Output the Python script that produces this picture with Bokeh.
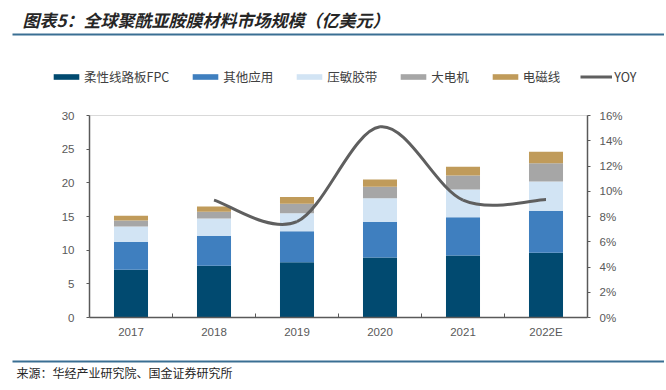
from bokeh.plotting import figure
from bokeh.layouts import column
from bokeh.models import (Range1d, LinearAxis, FixedTicker, Legend, LegendItem, Label,
                          BoxAnnotation, PrintfTickFormatter, ColumnDataSource)
from bokeh.embed import file_html
from bokeh.resources import INLINE

# ---------------- data ----------------
years = ["2017", "2018", "2019", "2020", "2021", "2022E"]
series_names = ["柔性线路板FPC", "其他应用", "压敏胶带", "大电机", "电磁线"]
fpc = [7.1, 7.7, 8.2, 8.9, 9.2, 9.6]
other = [4.1, 4.4, 4.6, 5.3, 5.7, 6.2]
tape = [2.3, 2.6, 2.7, 3.5, 4.1, 4.4]
motor = [0.9, 1.0, 1.4, 1.7, 2.1, 2.7]
wire = [0.7, 0.8, 1.0, 1.1, 1.3, 1.7]
yoy_years = ["2018", "2019", "2020", "2021", "2022E"]
yoy = [9.3, 7.6, 15.1, 9.3, 9.35]  # %
left_ticks = [0, 5, 10, 15, 20, 25, 30]
right_ticks = [0, 2, 4, 6, 8, 10, 12, 14, 16]
title_text = "图表5：全球聚酰亚胺膜材料市场规模（亿美元）"
source_text = "来源：华经产业研究院、国金证券研究所"

colors = ["#014A70", "#3F7FBF", "#D2E4F4", "#A6A6A6", "#C09B5A"]
line_color = "#5F5F5F"
rule_color = "#3A6F93"
axis_color = "#595959"
text_gray = "#595959"
cjk = "Noto Sans CJK SC"
latin = "Liberation Sans"

W = 664
HH, MH, FH = 95, 250, 43               # header / main / footer heights
FL, FR, FT, FB = 89, 587, 20, 222      # main frame edges in main-figure px

keys = ["fpc", "other", "tape", "motor", "wire"]
series = [fpc, other, tape, motor, wire]
xs = list(range(len(years)))
yx = [years.index(y) for y in yoy_years]


def blank(h):
    f = figure(width=W, height=h, output_backend="svg", toolbar_location=None,
               x_range=Range1d(0, W), y_range=Range1d(0, h),
               x_axis_location=None, y_axis_location=None, frame_align=False,
               min_border_left=0, min_border_right=0, min_border_top=0, min_border_bottom=0)
    f.grid.visible = False
    f.outline_line_color = None
    return f


# ---------------- main chart ----------------
src = ColumnDataSource(dict(x=xs, **dict(zip(keys, series))))

p = figure(width=W, height=MH, output_backend="svg", toolbar_location=None,
           x_range=Range1d(-0.5, len(years) - 0.5), y_range=Range1d(0, 30),
           min_border_left=FL, min_border_right=W - FR, min_border_top=FT,
           min_border_bottom=MH - FB, frame_align=False)
p.extra_y_ranges = {"yoy": Range1d(0, 16)}
p.grid.visible = False
p.outline_line_color = "#D9D9D9"
p.outline_line_width = 1

p.vbar_stack(keys, x="x", width=0.41, source=src, color=colors, line_color=None)

# smoothed YOY line (Excel-like bezier through the data points)
n = len(yx)
pts = list(zip(yx, yoy))
bx0, by0, bx1, by1, cx0, cy0, cx1, cy1 = [], [], [], [], [], [], [], []
for i in range(n - 1):
    p0 = pts[max(i - 1, 0)]
    p1 = pts[i]
    p2 = pts[i + 1]
    p3 = pts[min(i + 2, n - 1)]
    bx0.append(p1[0]); by0.append(p1[1])
    bx1.append(p2[0]); by1.append(p2[1])
    cx0.append(p1[0] + (p2[0] - p0[0]) / 6); cy0.append(p1[1] + (p2[1] - p0[1]) / 6)
    cx1.append(p2[0] - (p3[0] - p1[0]) / 6); cy1.append(p2[1] - (p3[1] - p1[1]) / 6)
p.bezier(x0=bx0, y0=by0, x1=bx1, y1=by1, cx0=cx0, cy0=cy0, cx1=cx1, cy1=cy1,
         line_color=line_color, line_width=3, y_range_name="yoy")

xa = p.xaxis[0]
xa.ticker = FixedTicker(ticks=xs, minor_ticks=[i + 0.5 for i in xs[:-1]])
xa.major_label_overrides = {i: y for i, y in enumerate(years)}
xa.major_tick_in = 0
xa.major_tick_out = 0
xa.minor_tick_in = 4
xa.minor_tick_out = 0
xa.minor_tick_line_color = axis_color
xa.axis_line_color = axis_color
xa.axis_line_width = 1.5
xa.major_label_standoff = 8
xa.major_label_text_font = latin
xa.major_label_text_font_size = "11.5px"
xa.major_label_text_color = text_gray

ya = p.yaxis[0]
ya.ticker = FixedTicker(ticks=left_ticks)
ya.major_tick_in = 0
ya.major_tick_out = 3
ya.minor_tick_line_color = None
ya.major_tick_line_color = axis_color
ya.axis_line_color = axis_color
ya.axis_line_width = 1.5
ya.major_label_standoff = 12
ya.major_label_text_font = latin
ya.major_label_text_font_size = "11.5px"
ya.major_label_text_color = text_gray

ra = LinearAxis(y_range_name="yoy", ticker=FixedTicker(ticks=right_ticks),
                formatter=PrintfTickFormatter(format="%d%%"))
ra.major_tick_in = 0
ra.major_tick_out = 3
ra.minor_tick_line_color = None
ra.major_tick_line_color = axis_color
ra.axis_line_color = axis_color
ra.axis_line_width = 1.5
ra.major_label_standoff = 9
ra.major_label_text_font = latin
ra.major_label_text_font_size = "11.5px"
ra.major_label_text_color = text_gray
p.add_layout(ra, "right")

# ---------------- header: title, rule, legend ----------------
h = blank(HH)
h.add_layout(Label(x=22, y=HH - 19, x_units="screen", y_units="screen", text=title_text,
                   text_font=cjk, text_font_size="17px", text_font_style="bold italic",
                   text_color="#262626", text_baseline="middle"))
h.add_layout(BoxAnnotation(left=12, right=W, top=HH - 33, bottom=HH - 35,
                           left_units="screen", right_units="screen", top_units="screen",
                           bottom_units="screen", fill_color=rule_color, fill_alpha=1,
                           line_color=None))
# hidden copies of the series, used only to carry the legend swatch styles
proxies = [h.vbar(x=xs, top=s, width=0.4, color=c, line_color=None, visible=False)
           for s, c in zip(series, colors)]
proxies.append(h.line(x=yx, y=yoy, line_color=line_color, line_width=3, visible=False))
items = [LegendItem(label=name, renderers=[r]) for name, r in zip(series_names + ["YOY"], proxies)]
legend = Legend(items=items, orientation="horizontal", location=(50, 9),
                glyph_width=32, glyph_height=7, label_standoff=2, spacing=20,
                padding=0, margin=0, border_line_color=None, background_fill_alpha=0,
                inactive_fill_alpha=0,
                label_text_font=cjk, label_text_font_size="12.5px",
                label_text_color="#404040", label_height=14)
h.add_layout(legend, "center")

# ---------------- footer: rule, source ----------------
f = blank(FH)
f.add_layout(BoxAnnotation(left=12, right=W, top=FH - 15, bottom=FH - 17,
                           left_units="screen", right_units="screen", top_units="screen",
                           bottom_units="screen", fill_color=rule_color, fill_alpha=1,
                           line_color=None))
f.add_layout(Label(x=16, y=FH - 27, x_units="screen", y_units="screen", text=source_text,
                   text_font=cjk, text_font_size="12px", text_color="#262626",
                   text_baseline="middle"))

layout = column(h, p, f, spacing=0)
open("out.html", "w").write(file_html(layout, INLINE))
